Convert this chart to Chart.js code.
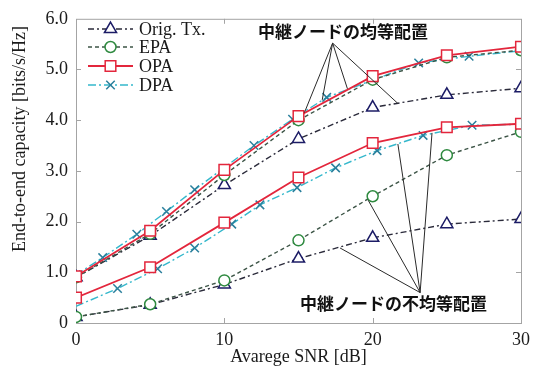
<!DOCTYPE html>
<html>
<head>
<meta charset="utf-8">
<script src="https://cdn.jsdelivr.net/npm/chart.js@4.4.1/dist/chart.umd.min.js"></script>
<style>
  html, body { margin: 0; padding: 0; background: #fff; }
</style>
</head>
<body>
<canvas id="c" width="537" height="374"></canvas>
<script>
// SNR grid of the OPA / EPA / Orig. Tx. curves [dB]
const snr = [0, 5, 10, 15, 20, 25, 30];

// Relay nodes placed uniformly
const origUniform = [0.90, 1.72, 2.72, 3.63, 4.25, 4.50, 4.63];
const epaUniform  = [0.90, 1.76, 2.92, 4.00, 4.80, 5.24, 5.38];
const opaUniform  = [0.92, 1.82, 3.02, 4.08, 4.87, 5.28, 5.45];
const dpaUniformSnr = [0, 1.8, 4.1, 6.1, 8.0, 12.0, 14.6, 16.9, 23.1, 26.5, 30];
const dpaUniform    = [0.95, 1.29, 1.75, 2.20, 2.63, 3.50, 4.02, 4.45, 5.13, 5.26, 5.37];

// Relay nodes placed non-uniformly
const origNonUniform = [0.12, 0.36, 0.76, 1.27, 1.68, 1.95, 2.05];
const epaNonUniform  = [0.12, 0.37, 0.84, 1.63, 2.50, 3.31, 3.77];
const opaNonUniform  = [0.50, 1.10, 1.98, 2.87, 3.55, 3.86, 3.93];
const dpaNonUniformSnr = [0, 2.8, 5.5, 8.0, 10.5, 12.4, 14.9, 17.5, 20.3, 23.4, 26.7, 30];
const dpaNonUniform    = [0.33, 0.68, 1.07, 1.48, 1.95, 2.33, 2.67, 3.06, 3.40, 3.70, 3.90, 3.92];

// Axis ticks
const xTicks = [0, 10, 20, 30];
const yTicks = [0, 1, 2, 3, 4, 5, 6];

// Callout labels: text position and leader-line end points, in data units
const uniformLabel = { text: '中継ノードの均等配置', at: [18.0, 5.75], apex: [17.3, 5.52],
  ends: [[15.4, 4.15], [16.6, 4.40], [18.3, 4.62], [21.7, 4.33]] };
const nonUniformLabel = { text: '中継ノードの不均等配置', at: [21.4, 0.39], apex: [23.2, 0.60],
  ends: [[17.8, 1.48], [19.7, 2.42], [21.7, 3.53], [24.0, 3.75]] };

const SERIF = '"Liberation Serif", "Times New Roman", serif';

const toXY = (xs, ys) => xs.map((x, i) => ({ x, y: ys[i] }));

const styles = {
  orig: { label: 'Orig. Tx.', color: '#2a2a3a', markColor: '#1c1c66', dash: [6, 3, 2, 3], pointStyle: 'triangle', radius: 7, width: 1.4 },
  epa:  { label: 'EPA', color: '#3c5446', markColor: '#2f8a40', dash: [4, 3], pointStyle: 'circle', radius: 5.5, width: 1.4 },
  opa:  { label: 'OPA', color: '#e3263c', markColor: '#e3263c', dash: [], pointStyle: 'rect', radius: 7.5, width: 1.8 },
  dpa:  { label: 'DPA', color: '#35b8cc', markColor: '#2a7f9c', dash: [8, 3, 2, 3], pointStyle: 'crossRot', radius: 6, width: 1.4 }
};

function ds(key, data, order, radii) {
  const s = styles[key];
  return {
    label: s.label,
    data,
    order,
    showLine: true,
    tension: 0,
    borderColor: s.color,
    borderWidth: s.width,
    borderDash: s.dash,
    pointStyle: s.pointStyle,
    pointRadius: radii || s.radius,
    pointBorderColor: s.markColor,
    pointBackgroundColor: '#ffffff',
    pointBorderWidth: 1.5,
    pointHoverRadius: s.radius
  };
}

const datasets = [
  ds('opa', toXY(snr, opaUniform), 0),
  ds('opa', toXY(snr, opaNonUniform), 1),
  ds('epa', toXY(snr, epaUniform), 2),
  ds('epa', toXY(snr, epaNonUniform), 3),
  ds('dpa', toXY(dpaUniformSnr, dpaUniform), 4),
  ds('dpa', toXY(dpaNonUniformSnr, dpaNonUniform), 5,
     dpaNonUniformSnr.map((x, i) => i === 0 ? 0 : styles.dpa.radius)),
  ds('orig', toXY(snr, origUniform), 6),
  ds('orig', toXY(snr, origNonUniform), 7)
];

// Box frame, inward tick marks, legend, y-axis title and callouts
const decorations = {
  id: 'decorations',
  beforeDatasetsDraw(chart) {
    const { ctx, chartArea: a, scales: { x, y } } = chart;
    ctx.save();
    ctx.strokeStyle = '#a4a4a4';
    ctx.lineWidth = 1;
    ctx.strokeRect(a.left + 0.5, a.top + 0.5, a.right - a.left, a.bottom - a.top);
    ctx.beginPath();
    xTicks.slice(1, -1).forEach(v => {
      const px = Math.round(x.getPixelForValue(v)) + 0.5;
      ctx.moveTo(px, a.bottom); ctx.lineTo(px, a.bottom - 5);
      ctx.moveTo(px, a.top); ctx.lineTo(px, a.top + 5);
    });
    yTicks.slice(1, -1).forEach(v => {
      const py = Math.round(y.getPixelForValue(v)) + 0.5;
      ctx.moveTo(a.left, py); ctx.lineTo(a.left + 5, py);
      ctx.moveTo(a.right, py); ctx.lineTo(a.right - 5, py);
    });
    ctx.stroke();
    ctx.restore();
  },
  afterDatasetsDraw(chart) {
    const { ctx, scales: { x, y } } = chart;
    const P = p => [x.getPixelForValue(p[0]), y.getPixelForValue(p[1])];
    ctx.save();

    // callouts
    [uniformLabel, nonUniformLabel].forEach(c => {
      const [ax, ay] = P(c.apex);
      ctx.strokeStyle = '#2a2a2a';
      ctx.lineWidth = 1;
      ctx.setLineDash([]);
      ctx.beginPath();
      c.ends.forEach(e => { const [ex, ey] = P(e); ctx.moveTo(ax, ay); ctx.lineTo(ex, ey); });
      ctx.stroke();
      const [tx, ty] = P(c.at);
      ctx.fillStyle = '#111';
      ctx.font = 'bold 17px "Noto Sans CJK JP", sans-serif';
      ctx.textAlign = 'center';
      ctx.textBaseline = 'middle';
      ctx.fillText(c.text, tx, ty);
    });

    // legend
    const keys = ['orig', 'epa', 'opa', 'dpa'];
    const lx0 = 88, lx1 = 133, tx = 139, rows = [29, 47, 66, 85];
    keys.forEach((k, i) => {
      const s = styles[k];
      const yy = rows[i];
      ctx.strokeStyle = s.color;
      ctx.lineWidth = s.width;
      ctx.setLineDash(s.dash);
      ctx.beginPath();
      ctx.moveTo(lx0, yy); ctx.lineTo(lx1, yy);
      ctx.stroke();
      ctx.setLineDash([]);
      ctx.strokeStyle = s.markColor;
      ctx.fillStyle = '#ffffff';
      ctx.lineWidth = 1.5;
      Chart.helpers.drawPoint(ctx, { pointStyle: s.pointStyle, radius: s.radius, borderWidth: 1.5, rotation: 0 }, (lx0 + lx1) / 2, yy);
      ctx.fillStyle = '#1a1a1a';
      ctx.font = '18px ' + SERIF;
      ctx.textAlign = 'left';
      ctx.textBaseline = 'middle';
      ctx.fillText(s.label, tx, yy + 1);
    });

    // y-axis title
    ctx.translate(20, 139);
    ctx.rotate(-Math.PI / 2);
    ctx.fillStyle = '#1a1a1a';
    ctx.font = '18px ' + SERIF;
    ctx.textAlign = 'center';
    ctx.textBaseline = 'middle';
    ctx.fillText('End-to-end capacity [bits/s/Hz]', 0, 0);
    ctx.restore();
  }
};

new Chart(document.getElementById('c'), {
  type: 'scatter',
  data: { datasets },
  options: {
    responsive: false,
    animation: false,
    devicePixelRatio: 1,
    layout: { padding: { top: 14, right: 16, left: 0, bottom: 0 } },
    plugins: { legend: { display: false }, tooltip: { enabled: false } },
    scales: {
      x: {
        type: 'linear', min: 0, max: 30,
        afterBuildTicks: s => { s.ticks = xTicks.map(v => ({ value: v })); },
        afterFit: s => { s.height = 51; },
        grid: { display: false, drawTicks: false },
        border: { display: false },
        ticks: { color: '#1a1a1a', padding: 6, font: { family: SERIF, size: 18 } },
        title: { display: true, text: 'Avarege SNR [dB]', color: '#1a1a1a', padding: { top: 0, bottom: 6 }, font: { family: SERIF, size: 18 } }
      },
      y: {
        type: 'linear', min: 0, max: 6,
        afterBuildTicks: s => { s.ticks = yTicks.map(v => ({ value: v })); },
        afterFit: s => { s.width = 76; },
        grid: { display: false, drawTicks: false },
        border: { display: false },
        ticks: { color: '#1a1a1a', padding: 8, font: { family: SERIF, size: 18 },
                 callback: v => v === 0 ? '0' : v.toFixed(1) }
      }
    }
  },
  plugins: [decorations]
});
</script>
</body>
</html>
